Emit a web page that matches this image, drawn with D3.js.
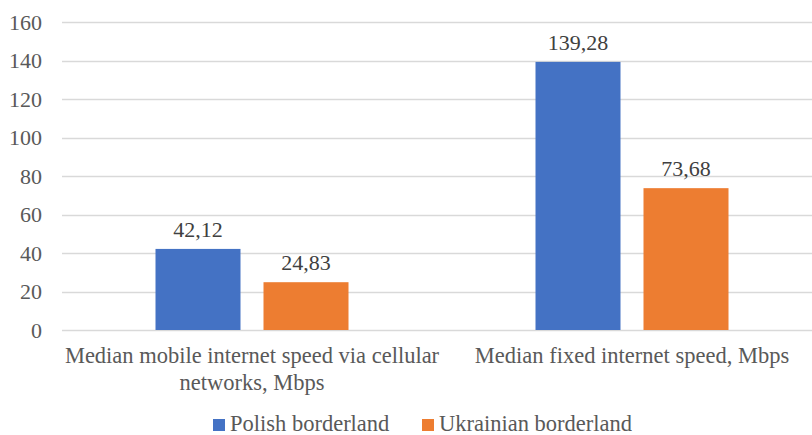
<!DOCTYPE html>
<html>
<head>
<meta charset="utf-8">
<script src="https://cdn.jsdelivr.net/npm/d3@7"></script>
<style>
  body { margin: 0; background: #fff; }
  svg text { font-family: "Liberation Serif", "Times New Roman", serif; }
</style>
</head>
<body>
<script>
const categories = [
    ["Median mobile internet speed via cellular", "networks, Mbps"],
    ["Median fixed internet speed, Mbps"]
];
const seriesNames = ["Polish borderland", "Ukrainian borderland"];
const polish = [42.12, 139.28];
const ukrainian = [24.83, 73.68];
const yTicks = [0, 20, 40, 60, 80, 100, 120, 140, 160];
const colors = ["#4472C4", "#ED7D31"];

const W = 812, H = 435;
const margin = { top: 22, right: -10, bottom: 105, left: 62 };

const svg = d3.select("body").append("svg")
    .attr("width", W)
    .attr("height", H);

const groupWidth = 193;

const x0 = d3.scaleBand()
    .domain(d3.range(categories.length))
    .range([margin.left, W - margin.right]);

const x1 = d3.scaleBand()
    .domain(d3.range(seriesNames.length))
    .range([0, groupWidth])
    .paddingInner(23 / 108);

const y = d3.scaleLinear()
    .domain([0, 160])
    .range([H - margin.bottom, margin.top]);

// gridlines
svg.append("g")
    .selectAll("line")
    .data(yTicks)
    .join("line")
    .attr("x1", margin.left)
    .attr("x2", W - margin.right)
    .attr("y1", d => Math.round(y(d)) + 0.5)
    .attr("y2", d => Math.round(y(d)) + 0.5)
    .attr("stroke", "#D9D9D9")
    .attr("stroke-width", 1.5);

// y axis labels
const yAxis = d3.axisLeft(y).tickValues(yTicks).tickSize(0).tickPadding(20);
svg.append("g")
    .attr("transform", `translate(${margin.left}, 0)`)
    .call(yAxis)
    .attr("font-family", null)
    .attr("font-size", null)
    .call(g => g.select(".domain").remove())
    .call(g => g.selectAll("text")
        .attr("fill", "#595959")
        .attr("dy", "0.34em")
        .style("font-size", "22px"));

const data = categories.map((c, i) => ({ i, values: [polish[i], ukrainian[i]] }));

const groups = svg.append("g")
    .selectAll("g")
    .data(data)
    .join("g")
    .attr("transform", d => `translate(${x0(d.i) + (x0.bandwidth() - groupWidth) / 2}, 0)`);

groups.selectAll("rect")
    .data(d => d.values.map((v, s) => ({ v, s })))
    .join("rect")
    .attr("x", d => x1(d.s))
    .attr("width", x1.bandwidth())
    .attr("y", d => y(d.v))
    .attr("height", d => y(0) - y(d.v))
    .attr("fill", d => colors[d.s]);

const fmt = v => v.toFixed(2).replace(".", ",");
groups.selectAll("text.val")
    .data(d => d.values.map((v, s) => ({ v, s })))
    .join("text")
    .attr("class", "val")
    .attr("x", d => x1(d.s) + x1.bandwidth() / 2)
    .attr("y", d => y(d.v) - 12)
    .attr("text-anchor", "middle")
    .attr("fill", "#404040")
    .style("font-size", "22px")
    .text(d => fmt(d.v));

// category labels
const catG = svg.append("g")
    .selectAll("text")
    .data(categories)
    .join("text")
    .attr("text-anchor", "middle")
    .attr("fill", "#595959")
    .style("font-size", "22.5px")
    .attr("x", (d, i) => x0(i) + x0.bandwidth() / 2)
    .attr("y", 363);

catG.selectAll("tspan")
    .data(d => d)
    .join("tspan")
    .attr("x", function () { return d3.select(this.parentNode).attr("x"); })
    .attr("dy", (d, i) => i === 0 ? 0 : 27)
    .text(d => d);

// legend
const legendItems = [
    { name: seriesNames[0], color: colors[0], x: 213 },
    { name: seriesNames[1], color: colors[1], x: 422 }
];
const legend = svg.append("g")
    .selectAll("g")
    .data(legendItems)
    .join("g")
    .attr("transform", d => `translate(${d.x}, 0)`);

legend.append("rect")
    .attr("y", 419)
    .attr("width", 12)
    .attr("height", 12)
    .attr("fill", d => d.color);

legend.append("text")
    .attr("x", 17)
    .attr("y", 431)
    .attr("fill", "#595959")
    .style("font-size", "22.5px")
    .text(d => d.name);
</script>
</body>
</html>
